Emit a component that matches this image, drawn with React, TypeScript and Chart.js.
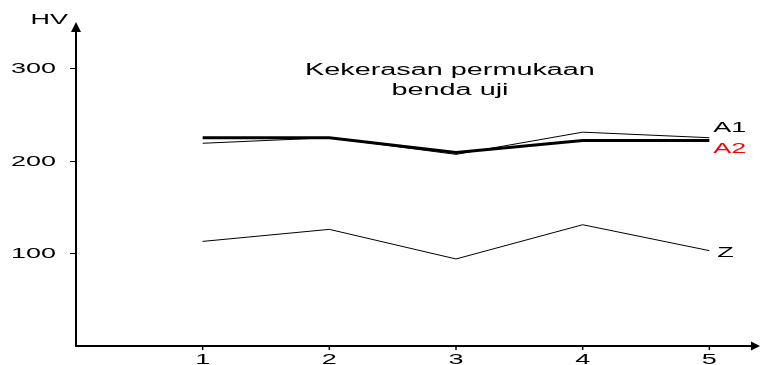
import React, { useEffect, useRef } from "react";
import { Chart, registerables } from "chart.js";

Chart.register(...registerables);

const categories = [1, 2, 3, 4, 5];
const seriesA1 = [219, 225, 207, 231, 225];
const seriesA2 = [225, 225, 209, 222, 222];
const seriesZ = [113, 126, 94, 131, 103];
const yTicks = [100, 200, 300];
const xTicks = [1, 2, 3, 4, 5];
const annotationLines = ["Kekerasan permukaan", "benda uji"];
const yAxisTitle = "HV";

const FONT = "'Liberation Sans', Arial, sans-serif";
const SX = 1.8;

function drawText(
  ctx: CanvasRenderingContext2D,
  text: string,
  x: number,
  y: number,
  align: CanvasTextAlign,
  size: number,
  color: string
) {
  ctx.save();
  ctx.translate(x, y);
  ctx.scale(SX, 1);
  ctx.font = `${size}px ${FONT}`;
  ctx.fillStyle = color;
  ctx.textAlign = align;
  ctx.textBaseline = "middle";
  ctx.fillText(text, 0, 0);
  ctx.restore();
}

const axesPlugin = {
  id: "customAxes",
  afterDraw(chart: any) {
    const ctx: CanvasRenderingContext2D = chart.ctx;
    const xs = chart.scales.x;
    const ys = chart.scales.y;
    const x0 = xs.getPixelForValue(0);
    const y0 = ys.getPixelForValue(0);
    const xEnd = xs.getPixelForValue(xs.max);
    const yEnd = ys.getPixelForValue(ys.max);

    ctx.save();
    ctx.strokeStyle = "#000";
    ctx.fillStyle = "#000";
    ctx.lineWidth = 2;
    // y axis
    ctx.beginPath();
    ctx.moveTo(x0, y0 + 1);
    ctx.lineTo(x0, yEnd + 6);
    ctx.stroke();
    ctx.beginPath();
    ctx.moveTo(x0, yEnd);
    ctx.lineTo(x0 - 5, yEnd + 10);
    ctx.lineTo(x0 + 5, yEnd + 10);
    ctx.closePath();
    ctx.fill();
    // x axis
    ctx.beginPath();
    ctx.moveTo(x0 - 1, y0);
    ctx.lineTo(xEnd - 6, y0);
    ctx.stroke();
    ctx.beginPath();
    ctx.moveTo(xEnd, y0);
    ctx.lineTo(xEnd - 9, y0 - 4.5);
    ctx.lineTo(xEnd - 9, y0 + 4.5);
    ctx.closePath();
    ctx.fill();

    // y ticks
    ctx.lineWidth = 1;
    yTicks.forEach((v) => {
      const py = Math.round(ys.getPixelForValue(v)) + 0.5;
      ctx.beginPath();
      ctx.moveTo(x0 - 6, py);
      ctx.lineTo(x0, py);
      ctx.stroke();
      drawText(ctx, String(v), x0 - 20, py, "right", 15, "#000");
    });
    // x ticks
    ctx.lineWidth = 1.5;
    xTicks.forEach((v) => {
      const px = xs.getPixelForValue(v);
      ctx.beginPath();
      ctx.moveTo(px, y0);
      ctx.lineTo(px, y0 + 4);
      ctx.stroke();
      drawText(ctx, String(v), px, y0 + 14, "center", 15, "#000");
    });

    // axis title
    drawText(ctx, yAxisTitle, x0 - 8, yEnd - 2, "right", 15, "#000");

    // annotation
    const cx = xs.getPixelForValue(3);
    drawText(ctx, annotationLines[0], cx - 6, ys.getPixelForValue(300) + 2, "center", 16, "#000");
    drawText(ctx, annotationLines[1], cx - 6, ys.getPixelForValue(300) + 22, "center", 16, "#000");

    // series labels
    const lx = xs.getPixelForValue(5);
    const last = categories.length - 1;
    drawText(ctx, "A1", lx + 4, ys.getPixelForValue(seriesA1[last]) - 10, "left", 15, "#000");
    drawText(ctx, "A2", lx + 4, ys.getPixelForValue(seriesA2[last]) + 8, "left", 15, "#ff0000");
    drawText(ctx, "Z", lx + 8, ys.getPixelForValue(seriesZ[last]) + 2, "left", 15, "#000");
    ctx.restore();
  },
};

export default function App() {
  const ref = useRef<HTMLCanvasElement | null>(null);
  useEffect(() => {
    if (!ref.current) return;
    const mk = (vals: number[]) => categories.map((c, i) => ({ x: c, y: vals[i] }));
    const chart = new Chart(ref.current, {
      type: "line",
      data: {
        datasets: [
          { label: "A1", data: mk(seriesA1), borderColor: "#000", borderWidth: 1, pointRadius: 0, tension: 0 },
          { label: "A2", data: mk(seriesA2), borderColor: "#000", borderWidth: 3, pointRadius: 0, tension: 0 },
          { label: "Z", data: mk(seriesZ), borderColor: "#000", borderWidth: 1, pointRadius: 0, tension: 0 },
        ],
      },
      options: {
        animation: false,
        responsive: false,
        layout: { padding: { left: 76, top: 22, right: 1, bottom: 19 } },
        plugins: { legend: { display: false }, tooltip: { enabled: false }, title: { display: false } },
        scales: {
          x: { type: "linear", min: 0, max: 5.4, display: false },
          y: { type: "linear", min: 0, max: 350, display: false },
        },
      },
      plugins: [axesPlugin],
    });
    return () => chart.destroy();
  }, []);
  return (
    <div style={{ position: "fixed", left: 0, top: 0, width: 761, height: 365, background: "#fff" }}>
      <canvas ref={ref} width={761} height={365} />
    </div>
  );
}
